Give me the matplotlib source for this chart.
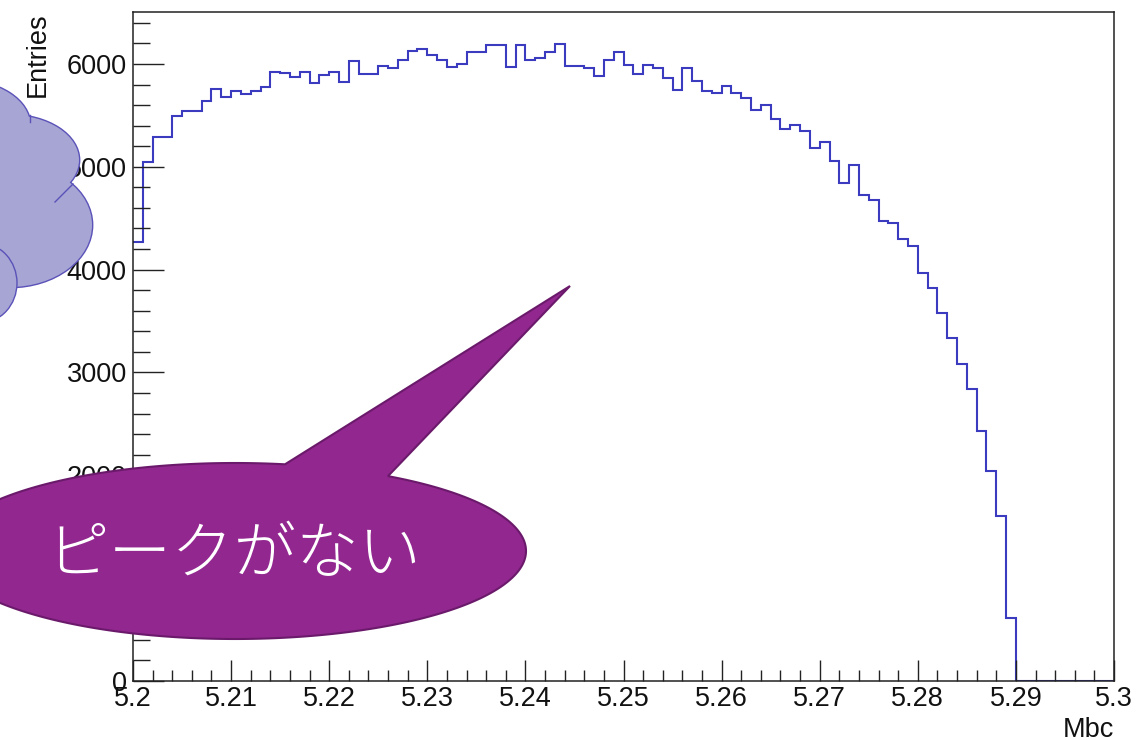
import numpy as np
import matplotlib
matplotlib.use("Agg")
import matplotlib.pyplot as plt
from matplotlib.patches import Ellipse, Polygon
from matplotlib.ticker import MultipleLocator, FixedLocator, FixedFormatter

# ---------------- data ----------------
bin_edges = np.round(np.linspace(5.2, 5.3, 101), 4)
entries = [
    4270, 5050, 5290, 5290, 5495, 5540, 5540, 5638, 5755, 5683,
    5735, 5703, 5735, 5771, 5923, 5910, 5875, 5923, 5810, 5891,
    5923, 5823, 6027, 5907, 5907, 5979, 5956, 6043, 6128, 6150,
    6086, 6043, 5972, 5995, 6112, 6112, 6183, 6183, 5972, 6183,
    6043, 6062, 6112, 6198, 5979, 5979, 5956, 5885, 6043, 6112,
    5990, 5907, 5988, 5956, 5868, 5751, 5956, 5836, 5739, 5719,
    5787, 5719, 5670, 5550, 5605, 5463, 5372, 5411, 5346, 5183,
    5242, 5054, 4846, 5018, 4729, 4676, 4476, 4453, 4301, 4229,
    3970, 3824, 3580, 3337, 3084, 2840, 2434, 2045, 1600, 610,
    0, 0, 0, 0, 0, 0, 0, 0, 0, 0,
]
x_ticks = [5.2, 5.21, 5.22, 5.23, 5.24, 5.25, 5.26, 5.27, 5.28, 5.29, 5.3]
x_tick_labels = ["5.2", "5.21", "5.22", "5.23", "5.24", "5.25", "5.26",
                 "5.27", "5.28", "5.29", "5.3"]
y_ticks = [0, 1000, 2000, 3000, 4000, 5000, 6000]
y_tick_labels = ["0", "1000", "2000", "3000", "4000", "5000", "6000"]
x_title = "Mbc"
y_title = "Entries"
bubble_text = "ピークがない"

# ---------------- figure ----------------
W, H = 1137, 740
fig = plt.figure(figsize=(W / 100, H / 100), dpi=100)
fig.patch.set_facecolor("white")

L, R, T, B = 133, 1114, 12, 681
ax = fig.add_axes([L / W, (H - B) / H, (R - L) / W, (B - T) / H])
ax.stairs(entries, bin_edges, baseline=None, color="#3b3bbf",
          linewidth=1.5, zorder=1)
ax.set_xlim(5.2, 5.3)
ax.set_ylim(0, 6505)

FS = 19.5
ax.xaxis.set_major_locator(FixedLocator(x_ticks))
ax.xaxis.set_major_formatter(FixedFormatter(x_tick_labels))
ax.xaxis.set_minor_locator(MultipleLocator(0.002))
ax.yaxis.set_major_locator(FixedLocator(y_ticks))
ax.yaxis.set_major_formatter(FixedFormatter(y_tick_labels))
ax.yaxis.set_minor_locator(MultipleLocator(200))
for lab in ax.get_xticklabels() + ax.get_yticklabels():
    lab.set_fontfamily("Liberation Sans")
    lab.set_fontsize(FS)
    lab.set_color("#111111")

ax.tick_params(axis="x", which="major", direction="in", length=15, width=1,
               pad=3.5, top=False, color="#222222")
ax.tick_params(axis="x", which="minor", direction="in", length=8, width=1,
               top=False, color="#222222")
ax.tick_params(axis="y", which="major", direction="in", length=22, width=1,
               pad=4.5, right=False, color="#222222")
ax.tick_params(axis="y", which="minor", direction="in", length=12, width=1,
               right=False, color="#222222")
for s in ax.spines.values():
    s.set_linewidth(1.1)
    s.set_color("#222222")
    s.set_zorder(3)

# axis titles (pixel coordinates)
fig.text(1114 / W, 1 - 737 / H, x_title, ha="right", va="baseline",
         fontfamily="Liberation Sans", fontsize=FS, color="#111111")
fig.text(25 / W, 1 - 12 / H, y_title, ha="left", va="top", rotation=90,
         fontfamily="Liberation Sans", fontsize=FS, color="#111111")

# ---------------- overlay (cloud + speech bubble) ----------------
ov = fig.add_axes([0, 0, 1, 1], zorder=10)
ov.set_xlim(0, W)
ov.set_ylim(H, 0)
ov.axis("off")
ov.patch.set_alpha(0)

cloud_fc = "#a6a5d4"
cloud_ec = "#5a52b8"
lobes = [(-40, 125, 140, 90), (10, 160, 138, 90), (10, 225, 164, 124)]
for cx, cy, w, h in lobes:
    ov.add_patch(Ellipse((cx, cy), w, h, facecolor=cloud_fc,
                         edgecolor=cloud_ec, linewidth=2.0, zorder=1))
for cx, cy, w, h in lobes:
    ov.add_patch(Ellipse((cx, cy), w, h, facecolor=cloud_fc,
                         edgecolor="none", zorder=2))
# inner strokes
ov.plot([55, 73], [202, 184], color=cloud_ec, lw=1.0, zorder=3)
ov.plot([30, 30], [115, 122], color=cloud_ec, lw=1.0, zorder=3)
ov.add_patch(Ellipse((-20, 283), 74, 80, facecolor=cloud_fc,
                     edgecolor=cloud_ec, linewidth=1.0, zorder=4))

# speech bubble
cx, cy, a, b = 235, 551, 291, 88
tip = (570, 286)
thL = np.arccos((285 - cx) / a)
thR = np.arccos((388 - cx) / a)
th = np.linspace(thL, 2 * np.pi + thR, 400)
pts = [(cx + a * np.cos(v), cy - b * np.sin(v)) for v in th]
pts.append(tip)
ov.add_patch(Polygon(pts, closed=True, facecolor="#92278f",
                     edgecolor="#6b1a6b", linewidth=1.5, zorder=5))
ov.text(234, 556, bubble_text, ha="center", va="center", color="white",
        fontsize=45, fontweight="light",
        family=["Noto Sans CJK JP", "DejaVu Sans"], zorder=6)

fig.savefig("out.png", dpi=100)
